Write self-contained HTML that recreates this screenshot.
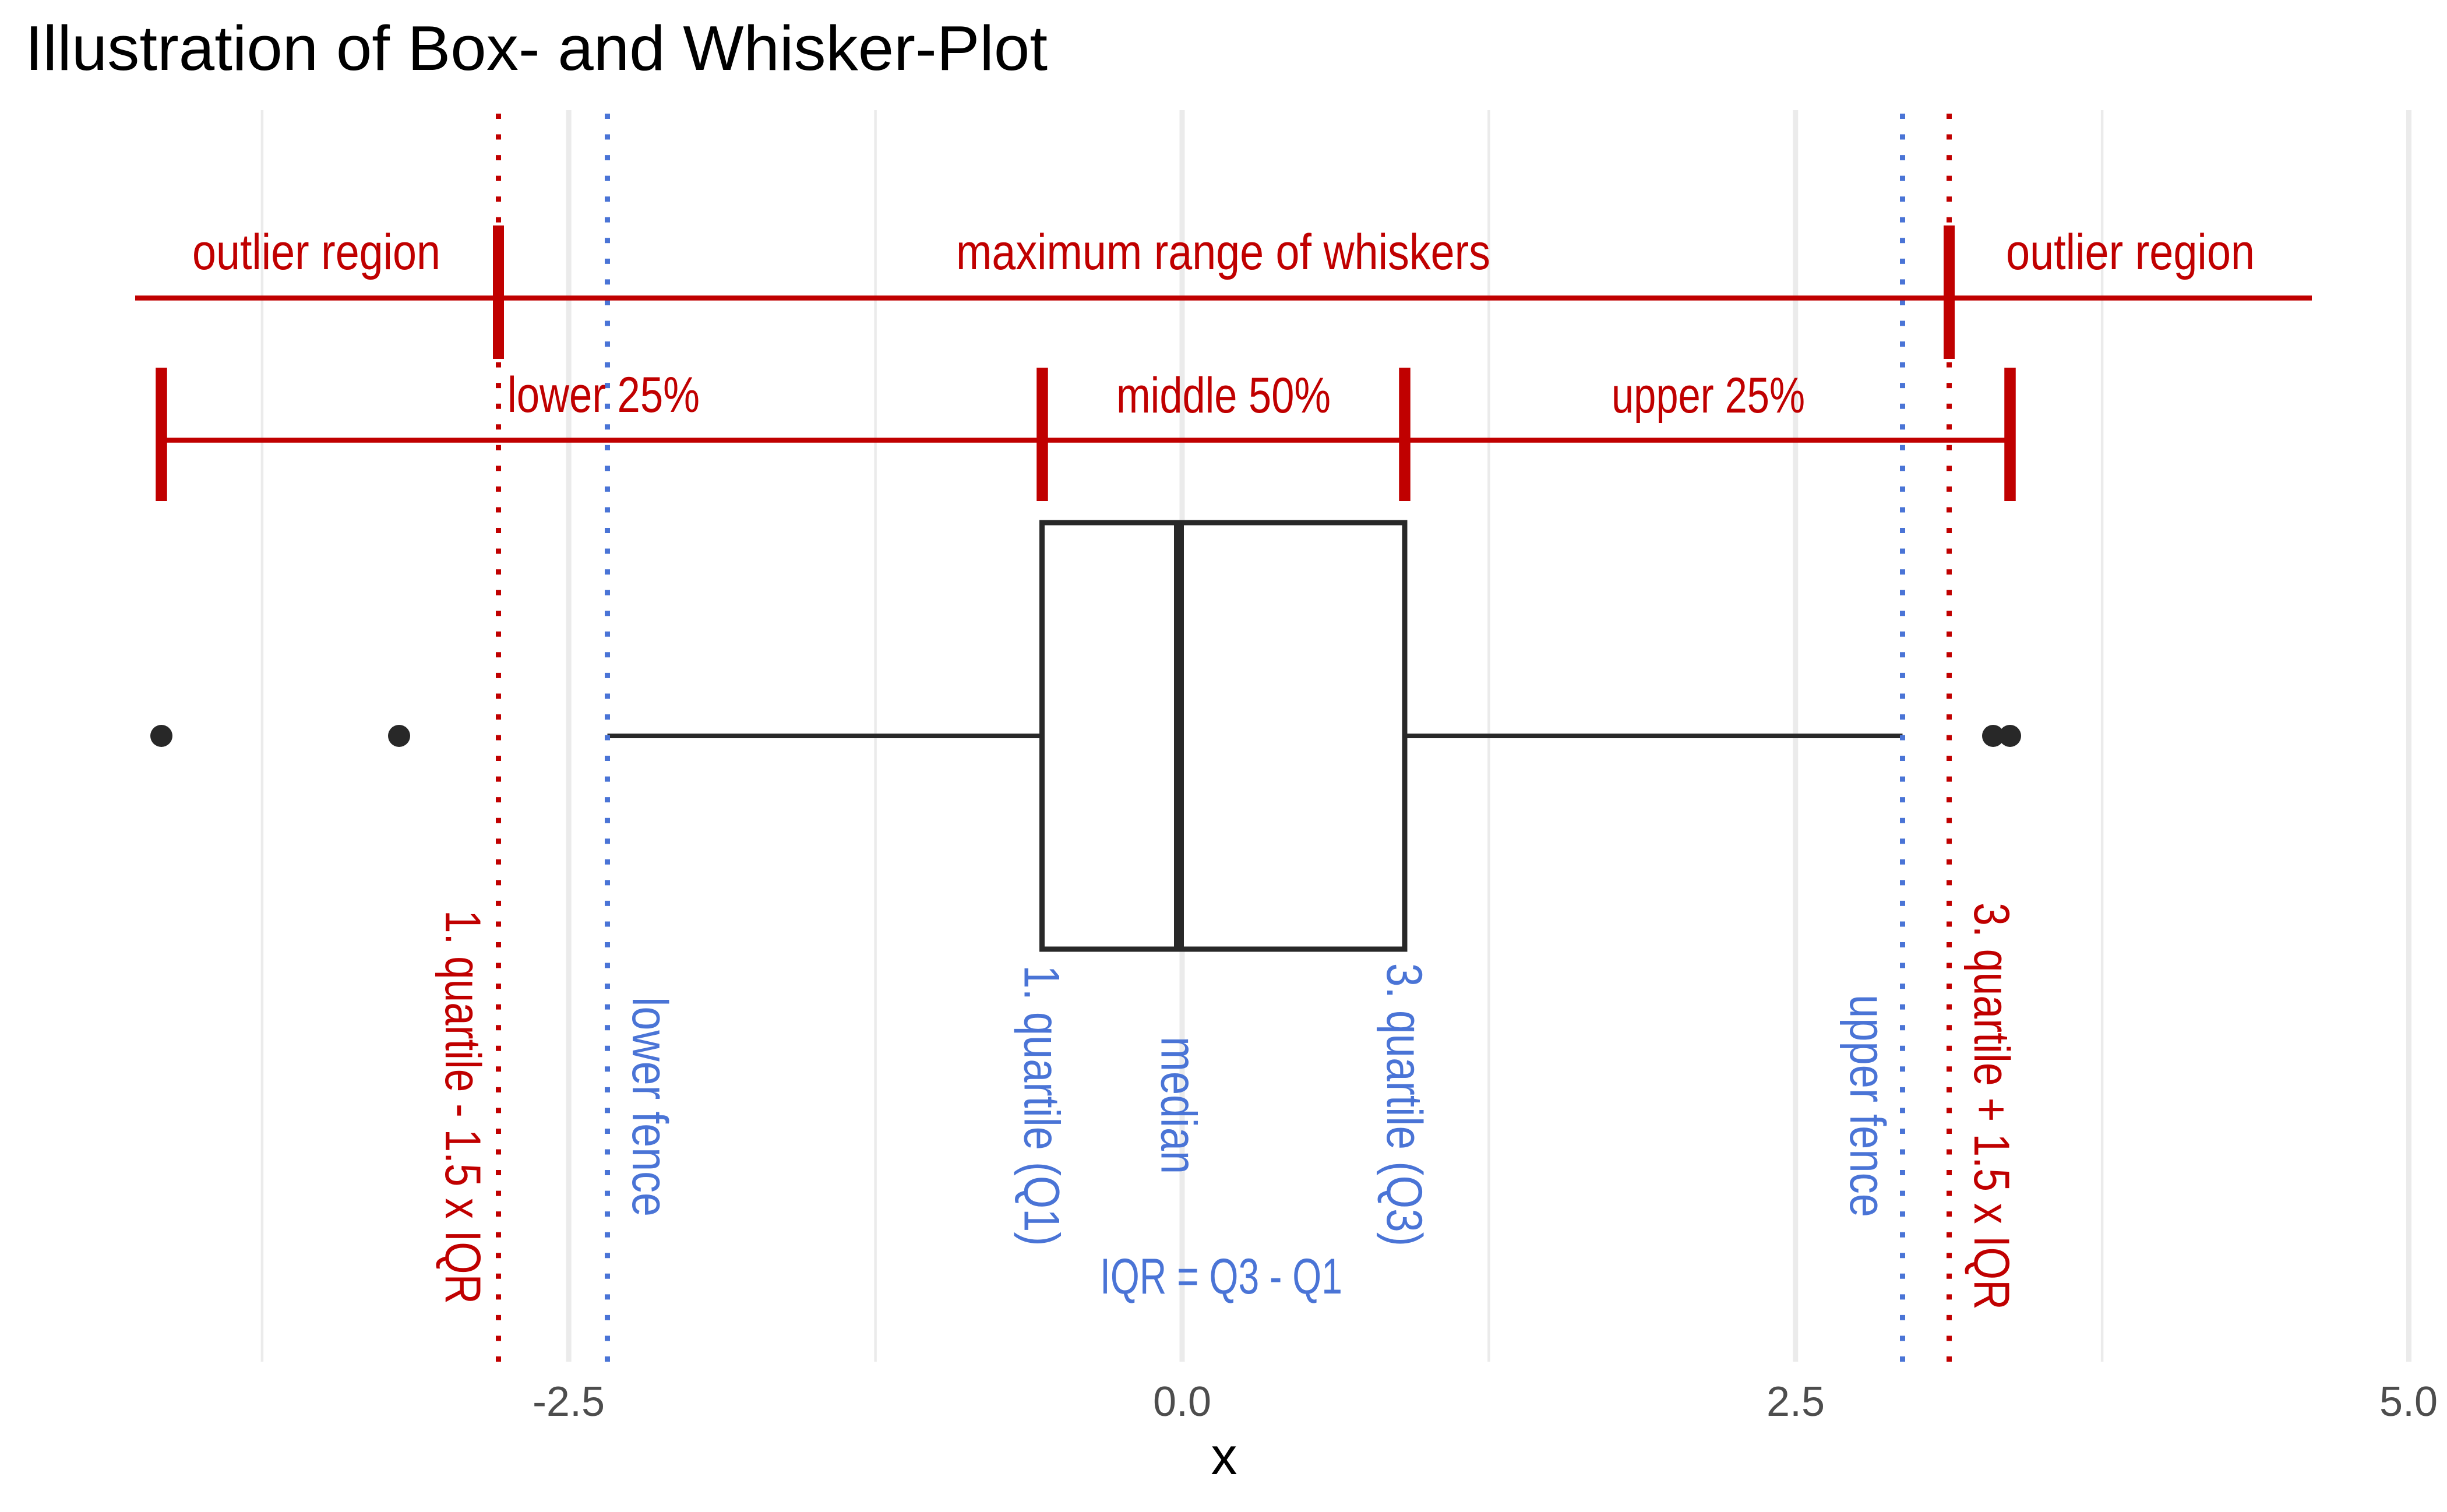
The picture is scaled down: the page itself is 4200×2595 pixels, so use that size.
<!DOCTYPE html>
<html>
<head>
<meta charset="utf-8">
<style>
  html,body{margin:0;padding:0;background:#ffffff;}
  svg{display:block;}
  text{font-family:"Liberation Sans", Arial, sans-serif;}
</style>
</head>
<body>
<svg width="4200" height="2595" viewBox="0 0 4200 2595" xmlns="http://www.w3.org/2000/svg">
  <rect x="0" y="0" width="4200" height="2595" fill="#ffffff"/>

  <!-- Title -->
  <text x="43" y="120" font-size="109" fill="#000000" textLength="1755" lengthAdjust="spacingAndGlyphs">Illustration of Box- and Whisker-Plot</text>

  <!-- Grid lines -->
  <g stroke="#ebebeb" fill="none">
    <line x1="449.9" y1="189" x2="449.9" y2="2337" stroke-width="4.5"/>
    <line x1="1502.6" y1="189" x2="1502.6" y2="2337" stroke-width="4.5"/>
    <line x1="2555.4" y1="189" x2="2555.4" y2="2337" stroke-width="4.5"/>
    <line x1="3608.1" y1="189" x2="3608.1" y2="2337" stroke-width="4.5"/>
    <line x1="976.2" y1="189" x2="976.2" y2="2337" stroke-width="9"/>
    <line x1="2029" y1="189" x2="2029" y2="2337" stroke-width="9"/>
    <line x1="3081.8" y1="189" x2="3081.8" y2="2337" stroke-width="9"/>
    <line x1="4134.5" y1="189" x2="4134.5" y2="2337" stroke-width="9"/>
  </g>

  <!-- Boxplot -->
  <g stroke="#282828" fill="none">
    <line x1="1042.5" y1="1263" x2="1788.5" y2="1263" stroke-width="8"/>
    <line x1="2411" y1="1263" x2="3265.5" y2="1263" stroke-width="8"/>
    <rect x="1788.5" y="897" width="622.5" height="732" stroke-width="9" fill="#ffffff"/>
    <line x1="2023.5" y1="897" x2="2023.5" y2="1629" stroke-width="17"/>
  </g>
  <g fill="#282828">
    <circle cx="277" cy="1263" r="19"/>
    <circle cx="685" cy="1263" r="19"/>
    <circle cx="3421" cy="1263" r="19"/>
    <circle cx="3450" cy="1263" r="19"/>
  </g>

  <!-- Dotted vertical lines -->
  <g fill="none" stroke-width="9" stroke-dasharray="9 26.55">
    <line x1="855.5" y1="2337" x2="855.5" y2="189" stroke="#c00000"/>
    <line x1="3345.5" y1="2337" x2="3345.5" y2="189" stroke="#c00000"/>
    <line x1="1042.5" y1="2337" x2="1042.5" y2="189" stroke="#4a74d6"/>
    <line x1="3265.5" y1="2337" x2="3265.5" y2="189" stroke="#4a74d6"/>
  </g>

  <!-- Red range segments -->
  <g stroke="#c00000" fill="none">
    <line x1="232" y1="511.5" x2="3968" y2="511.5" stroke-width="8.5"/>
    <line x1="855.5" y1="387" x2="855.5" y2="616" stroke-width="19"/>
    <line x1="3345.5" y1="387" x2="3345.5" y2="616" stroke-width="19"/>
    <line x1="277" y1="755.5" x2="3450" y2="755.5" stroke-width="8.5"/>
    <line x1="277" y1="631" x2="277" y2="860" stroke-width="19.5"/>
    <line x1="1789" y1="631" x2="1789" y2="860" stroke-width="19.5"/>
    <line x1="2411" y1="631" x2="2411" y2="860" stroke-width="19.5"/>
    <line x1="3450" y1="631" x2="3450" y2="860" stroke-width="19.5"/>
  </g>

  <!-- Red horizontal labels -->
  <g fill="#c00000" font-size="86">
    <text x="330" y="462" textLength="426" lengthAdjust="spacingAndGlyphs">outlier region</text>
    <text x="1641" y="462" textLength="917" lengthAdjust="spacingAndGlyphs">maximum range of whiskers</text>
    <text x="3443" y="462" textLength="427" lengthAdjust="spacingAndGlyphs">outlier region</text>
    <text x="871" y="707" textLength="330" lengthAdjust="spacingAndGlyphs">lower 25%</text>
    <text x="1916" y="708" textLength="368" lengthAdjust="spacingAndGlyphs">middle 50%</text>
    <text x="2766" y="708" textLength="332" lengthAdjust="spacingAndGlyphs">upper 25%</text>
  </g>

  <!-- Vertical labels -->
  <g font-size="86">
    <text transform="translate(765,1562) rotate(90)" x="0" y="0" fill="#c00000" textLength="676" lengthAdjust="spacingAndGlyphs">1. quartile - 1.5 x IQR</text>
    <text transform="translate(1086,1711) rotate(90)" x="0" y="0" fill="#4a74d6" textLength="377" lengthAdjust="spacingAndGlyphs">lower fence</text>
    <text transform="translate(1758.7,1656.5) rotate(90)" x="0" y="0" fill="#4a74d6" textLength="482" lengthAdjust="spacingAndGlyphs">1. quartile (Q1)</text>
    <text transform="translate(1993.4,1779) rotate(90)" x="0" y="0" fill="#4a74d6" textLength="236" lengthAdjust="spacingAndGlyphs">median</text>
    <text transform="translate(2381,1653) rotate(90)" x="0" y="0" fill="#4a74d6" textLength="486" lengthAdjust="spacingAndGlyphs">3. quartile (Q3)</text>
    <text transform="translate(3176,1707) rotate(90)" x="0" y="0" fill="#4a74d6" textLength="382" lengthAdjust="spacingAndGlyphs">upper fence</text>
    <text transform="translate(3389,1549) rotate(90)" x="0" y="0" fill="#c00000" textLength="699" lengthAdjust="spacingAndGlyphs">3. quartile + 1.5 x IQR</text>
  </g>

  <!-- IQR label -->
  <text x="1888" y="2220" font-size="86" fill="#4a74d6" textLength="416" lengthAdjust="spacingAndGlyphs">IQR = Q3 - Q1</text>

  <!-- Axis tick labels -->
  <g font-size="72" fill="#4d4d4d" text-anchor="middle">
    <text x="976" y="2430">-2.5</text>
    <text x="2029" y="2430">0.0</text>
    <text x="3082" y="2430">2.5</text>
    <text x="4134" y="2430">5.0</text>
  </g>

  <!-- Axis title -->
  <text x="2101" y="2530" font-size="90" fill="#000000" text-anchor="middle">x</text>
</svg>
</body>
</html>
